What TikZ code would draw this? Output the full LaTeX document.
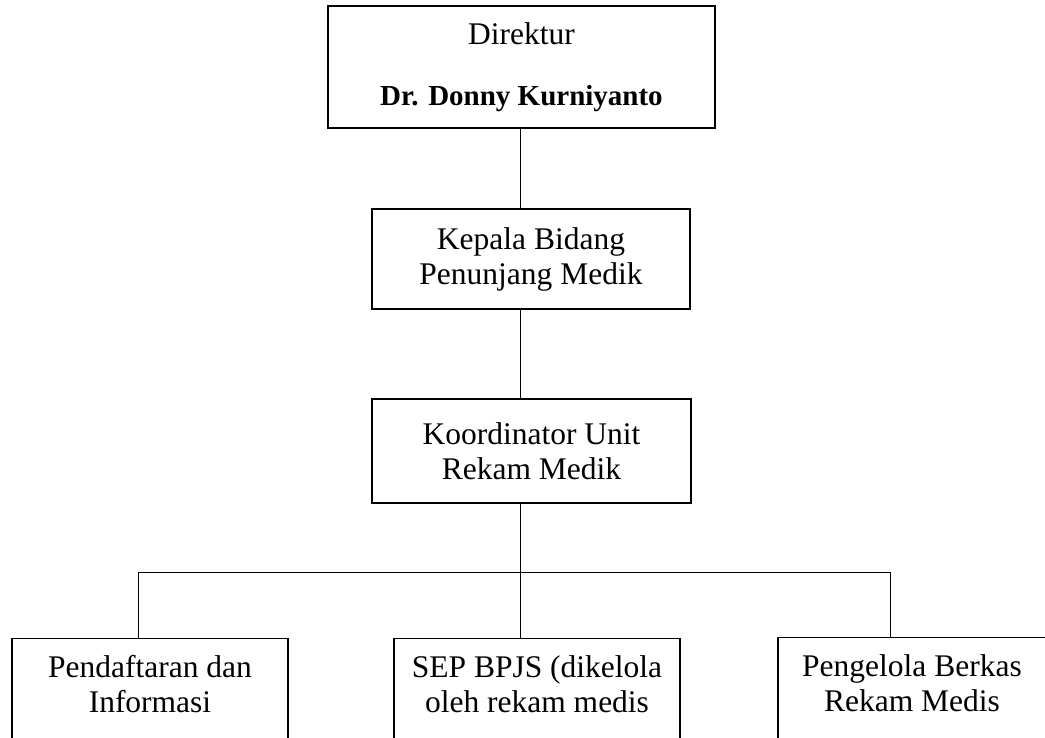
\documentclass[tikz,border=0pt]{standalone}
\usepackage{fontspec}
\setmainfont{Liberation Serif}
\usetikzlibrary{positioning}
\tikzset{orgbox/.style={draw=black, line width=1.3pt, fill=white, align=center,
    font=\fontsize{31.5}{35}\selectfont, inner sep=0pt}}
\tikzset{orgline/.style={draw=black, line width=1pt}}

\begin{document}
\begin{tikzpicture}[x=1pt, y=-1pt]

  \clip (0,0) rectangle (1045,737);

% top of the chart
  \node[orgbox, minimum width=387, minimum height=122] (dir) at (521.5,67)
    {Direktur\\[26pt]{\fontsize{29}{35}\selectfont\bfseries Dr. Donny Kurniyanto}};
  \node[orgbox, minimum width=318, minimum height=100] (kep) at (531,259)
    {Kepala Bidang\\Penunjang Medik};
  \node[orgbox, minimum width=319, minimum height=104] (koo) at (531.5,451)
    {Koordinator Unit\\Rekam Medik};

% bottom row (cut off by the page)
  \node[orgbox, minimum width=276, inner ysep=17pt, anchor=north] (pend) at (150,638)
    {Pendaftaran dan\\Informasi\\~};
  \node[orgbox, minimum width=286, inner ysep=17pt, anchor=north] (sep) at (537,638)
    {SEP BPJS (dikelola\\oleh rekam medis\\~};
  \node[orgbox, minimum width=268, inner ysep=17pt, anchor=north] (peng) at (912,637)
    {Pengelola Berkas\\Rekam Medis\\~};

  \coordinate (spine) at (520,0);
  \coordinate (busL) at (138,572);
  \coordinate (busM) at (520,572);
  \coordinate (busR) at (890,572);

  \draw[orgline] (spine |- dir.south) -- (spine |- kep.north);
  \draw[orgline] (spine |- kep.south) -- (spine |- koo.north);
  \draw[orgline] (spine |- koo.south) -- (busM);
  \draw[orgline] (busL) -- (busR);

  \draw[orgline] (busL) -- (busL |- pend.north);
  \draw[orgline] (busM) -- (busM |- sep.north);
  \draw[orgline] (busR) -- (busR |- peng.north);

\end{tikzpicture}
\end{document}
